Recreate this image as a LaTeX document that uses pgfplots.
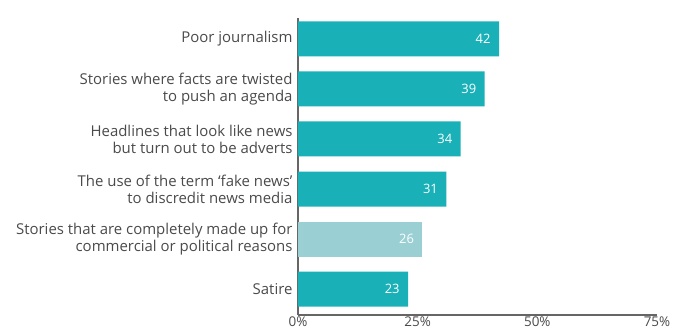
\documentclass[border=0pt]{standalone}
\usepackage{fontspec}
\setmainfont{Open Sans}
\usepackage{pgfplots}
\pgfplotsset{compat=1.18}
\definecolor{teal1}{HTML}{1AB0B7}
\definecolor{teal2}{HTML}{9ACFD4}
\definecolor{txt}{HTML}{4A4A4A}
\definecolor{axl}{HTML}{666666}
\begin{document}
\begin{tikzpicture}[x=1bp,y=1bp]
\useasboundingbox (-298,-19) rectangle (376,315);
\begin{axis}[
  at={(0,0)}, anchor=south west,
  scale only axis, width=359bp, height=297bp,
  xbar, bar width=0.7, bar shift=0pt,
  xmin=0, xmax=75, ymin=-0.52, ymax=5.42,
  axis x line*=bottom, axis y line*=left,
  axis line style={axl, line width=1.2bp},
  xtick={0,25,50,75}, xticklabels={0\%,25\%,50\%,75\%},
  ytick={0,1,2,3,4,5},
  yticklabels={Satire,
    {Stories that are completely made up for\\commercial or political reasons},
    {The use of the term `fake news'\\to discredit news media},
    {Headlines that look like news\\but turn out to be adverts},
    {Stories where facts are twisted\\to push an agenda},
    Poor journalism},
  major tick length=0pt,
  yticklabel style={align=right, font=\fontsize{15}{17}\selectfont, text=txt, xshift=-2bp},
  xticklabel style={font=\fontsize{13.5}{15}\selectfont, text=txt, yshift=2bp},
  /pgf/number format/assume math mode=true,
  nodes near coords,
  nodes near coords style={anchor=east, xshift=-5bp, text=white, font=\fontsize{13}{14}\selectfont},
  every axis plot/.append style={draw=none},
]
\addplot[fill=teal1] coordinates {(23,0) (31,2) (34,3) (39,4) (42,5)};
\addplot[fill=teal2] coordinates {(26,1)};
\end{axis}
\end{tikzpicture}
\end{document}
